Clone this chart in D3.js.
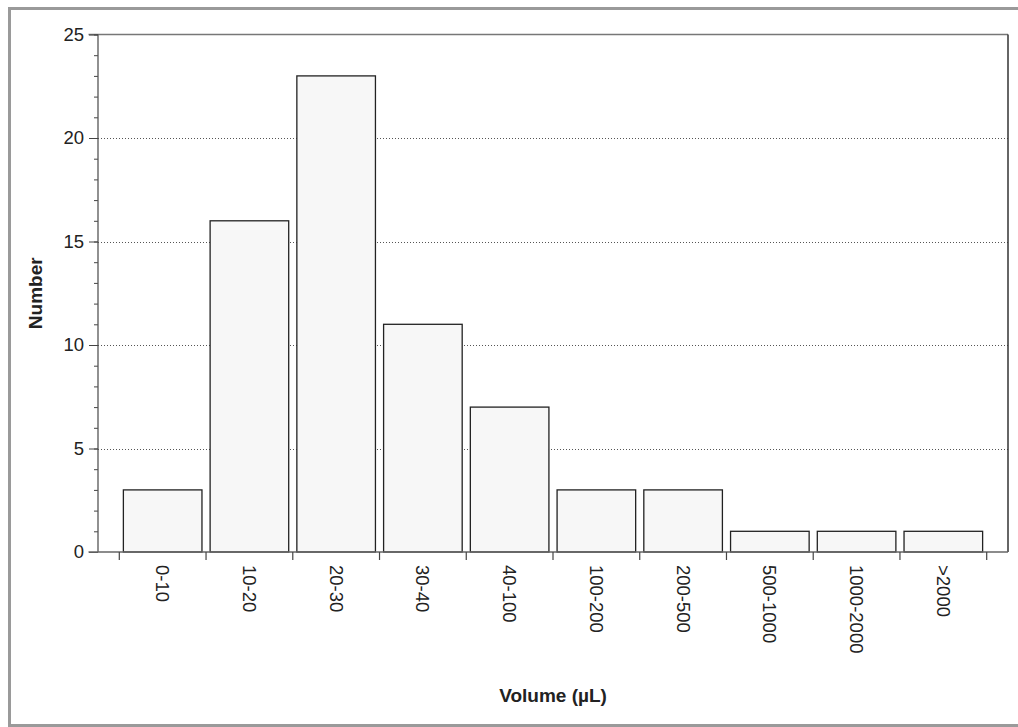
<!DOCTYPE html>
<html>
<head>
<meta charset="utf-8">
<script src="https://cdn.jsdelivr.net/npm/d3@7"></script>
<style>
  html, body { margin: 0; padding: 0; background: #fff; }
  svg { display: block; }
  text { font-family: Arial, "Liberation Sans", Helvetica, sans-serif; fill: #222; }
</style>
</head>
<body>
<svg id="chart" width="1018" height="727"></svg>
<script>
const categories = ["0-10", "10-20", "20-30", "30-40", "40-100", "100-200", "200-500", "500-1000", "1000-2000", ">2000"];
const counts = [3, 16, 23, 11, 7, 3, 3, 1, 1, 1];
const yMajorTicks = [0, 5, 10, 15, 20, 25];
const yMinorTicks = d3.range(0, 26);
const gridValues = [5, 10, 15, 20];
const xTitle = "Volume (µL)";
const yTitle = "Number";

const svg = d3.select("#chart");

// outer frame
svg.append("rect")
  .attr("x", 9.5).attr("y", 8.5)
  .attr("width", 1030).attr("height", 717)
  .attr("fill", "none").attr("stroke", "#9a9a9a").attr("stroke-width", 3);

const plot = { left: 98, right: 1008, top: 34.5, bottom: 552 };

const pad = 0.094;
const x = d3.scaleBand().domain(categories)
  .range([119.3, 986.7]).paddingInner(pad).paddingOuter(pad / 2);
const y = d3.scaleLinear().domain([0, 25]).range([plot.bottom, plot.top]);

// gridlines
svg.append("g").selectAll("line").data(gridValues).join("line")
  .attr("x1", plot.left).attr("x2", plot.right)
  .attr("y1", d => Math.round(y(d)) + 0.5).attr("y2", d => Math.round(y(d)) + 0.5)
  .attr("stroke", "#555").attr("stroke-width", 1).attr("stroke-dasharray", "1,2");

// bars
svg.append("g").selectAll("rect").data(categories).join("rect")
  .attr("x", d => x(d))
  .attr("y", (d, i) => y(counts[i]))
  .attr("width", x.bandwidth())
  .attr("height", (d, i) => y(0) - y(counts[i]))
  .attr("fill", "#f7f7f7").attr("stroke", "#222").attr("stroke-width", 1.3);

// plot frame: top and right
svg.append("line").attr("x1", 88.5).attr("x2", plot.right).attr("y1", plot.top).attr("y2", plot.top)
  .attr("stroke", "#777").attr("stroke-width", 1.5);
svg.append("line").attr("x1", plot.right).attr("x2", plot.right).attr("y1", plot.top).attr("y2", plot.bottom)
  .attr("stroke", "#333").attr("stroke-width", 1.5);

// y axis
const yAxisMinor = d3.axisLeft(y).tickValues(yMinorTicks).tickSize(4).tickFormat("");
const gMinor = svg.append("g").attr("transform", `translate(${plot.left},0)`).call(yAxisMinor);
gMinor.select(".domain").remove();
gMinor.selectAll("line").attr("stroke", "#444");

const yAxis = d3.axisLeft(y).tickValues(yMajorTicks).tickSize(9).tickPadding(5).tickFormat(d3.format("d"));
const gy = svg.append("g").attr("transform", `translate(${plot.left},0)`).call(yAxis);
gy.select(".domain").attr("d", `M0,${plot.top}V${plot.bottom}`).attr("stroke", "#555").attr("stroke-width", 1.3);
gy.selectAll(".tick line").attr("stroke", "#444");
gy.selectAll("text").style("font-size", "18.5px").attr("fill", "#222")
  .style("font-family", "Arial, 'Liberation Sans', sans-serif");

// x axis baseline
svg.append("line").attr("x1", 88.5).attr("x2", plot.right).attr("y1", plot.bottom).attr("y2", plot.bottom)
  .attr("stroke", "#666").attr("stroke-width", 1.5);

// x ticks at band boundaries
const step = x.step();
const boundaries = categories.map(c => x(c) - step * pad / 2).concat([x(categories[categories.length - 1]) + x.bandwidth() + step * pad / 2]);
svg.append("g").selectAll("line").data(boundaries).join("line")
  .attr("x1", d => d).attr("x2", d => d)
  .attr("y1", plot.bottom).attr("y2", plot.bottom + 8)
  .attr("stroke", "#444").attr("stroke-width", 1.2);

// x labels rotated
svg.append("g").selectAll("text").data(categories).join("text")
  .attr("transform", d => `translate(${x(d) + x.bandwidth() / 2},565) rotate(90)`)
  .attr("text-anchor", "start")
  .attr("dy", "0.35em")
  .style("font-size", "18.5px")
  .text(d => d);

// axis titles
svg.append("text")
  .attr("x", (plot.left + plot.right) / 2).attr("y", 702)
  .attr("text-anchor", "middle")
  .style("font-size", "19px").style("font-weight", "bold")
  .text(xTitle);

svg.append("text")
  .attr("transform", `translate(42,${(plot.top + plot.bottom) / 2}) rotate(-90)`)
  .attr("text-anchor", "middle")
  .style("font-size", "19px").style("font-weight", "bold")
  .text(yTitle);
</script>
</body>
</html>
